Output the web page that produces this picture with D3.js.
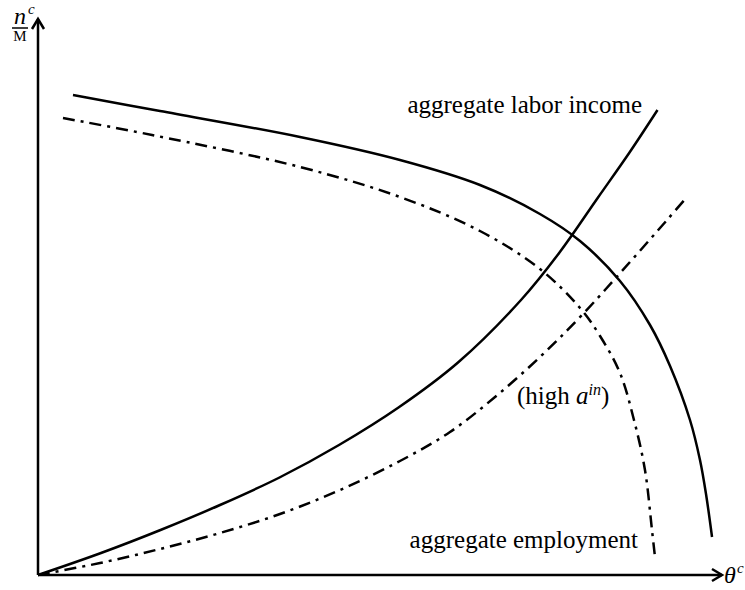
<!DOCTYPE html>
<html lang="en">
<head>
<meta charset="utf-8">
<script src="https://cdn.jsdelivr.net/npm/d3@7"></script>
<style>
  body { margin: 0; background: #fff; }
  text { font-family: "Liberation Serif", "Times New Roman", serif; fill: #000; }
</style>
</head>
<body>
<div id="chart"></div>
<script>
// aggregate labor income (solid, rising)
var incomeX = [0, 0.9, 1.75, 2.6, 3.45, 4.3, 5.15, 6.0, 6.9, 7.45, 8.0, 8.45, 8.85];
var incomeY = [0, 0.44, 0.9, 1.4, 1.95, 2.6, 3.35, 4.25, 5.5, 6.45, 7.55, 8.45, 9.3];

// aggregate employment (dash-dot, rising)
var employX = [0, 0.886, 1.743, 2.6, 3.457, 4.314, 5.171, 5.886, 6.529, 7.171, 7.771, 8.457, 8.986, 9.271];
var employY = [0, 0.24, 0.52, 0.84, 1.22, 1.7, 2.28, 2.86, 3.56, 4.36, 5.2, 6.26, 7.1, 7.56];

// falling curve (solid)
var fallX = [0.5, 1.743, 3.743, 5.171, 6.314, 7.171, 7.743, 8.314, 8.743, 9.029, 9.314, 9.457, 9.543, 9.629];
var fallY = [9.6, 9.28, 8.76, 8.3, 7.8, 7.22, 6.68, 5.88, 5.0, 4.18, 3.1, 2.3, 1.62, 0.76];

// falling curve, high a^in (dash-dot)
var fallHighX = [0.357, 1.629, 3.743, 5.171, 6.314, 7.171, 7.743, 8.029, 8.314, 8.514, 8.671, 8.771, 8.814];
var fallHighY = [9.14, 8.8, 8.16, 7.56, 6.88, 6.12, 5.34, 4.78, 4.04, 3.1, 2.1, 0.9, 0.36];

var w = 745, h = 590;

var svg = d3.select("#chart").append("svg")
  .attr("width", w)
  .attr("height", h);

var x = d3.scaleLinear().domain([0, 10]).range([38, 738]);
var y = d3.scaleLinear().domain([0, 10]).range([575, 75]);

var line = d3.line()
  .x(d => x(d[0]))
  .y(d => y(d[1]))
  .curve(d3.curveCatmullRom.alpha(0.5));

function pts(xs, ys) { return xs.map((v, i) => [v, ys[i]]); }

var dashDot = "12,6,3,6";

// axes with open arrow heads
var axes = svg.append("g")
  .attr("stroke", "#000")
  .attr("stroke-width", 2.5)
  .attr("fill", "none");
axes.append("line").attr("x1", x(0)).attr("y1", y(0)).attr("x2", x(0)).attr("y2", 19);
axes.append("path").attr("d", "M" + (x(0) - 6) + ",29L" + x(0) + ",19L" + (x(0) + 6) + ",29");
axes.append("line").attr("x1", x(0)).attr("y1", y(0)).attr("x2", 722).attr("y2", y(0));
axes.append("path").attr("d", "M712," + (y(0) - 6) + "L722," + y(0) + "L712," + (y(0) + 6));

// curves
svg.append("path")
  .datum(pts(fallX, fallY))
  .attr("d", line)
  .attr("fill", "none").attr("stroke", "#000").attr("stroke-width", 2.5);

svg.append("path")
  .datum(pts(fallHighX, fallHighY))
  .attr("d", line)
  .attr("fill", "none").attr("stroke", "#000").attr("stroke-width", 2.5)
  .attr("stroke-dasharray", dashDot);

svg.append("path")
  .datum(pts(incomeX, incomeY))
  .attr("d", line)
  .attr("fill", "none").attr("stroke", "#000").attr("stroke-width", 2.5);

svg.append("path")
  .datum(pts(employX, employY))
  .attr("d", line)
  .attr("fill", "none").attr("stroke", "#000").attr("stroke-width", 2.5)
  .attr("stroke-dasharray", dashDot);

// y axis label: n^c / M
var ylab = svg.append("g");
ylab.append("text").attr("x", 20).attr("y", 24).attr("text-anchor", "middle")
  .style("font-size", "24px").style("font-style", "italic").text("n");
ylab.append("text").attr("x", 28).attr("y", 14)
  .style("font-size", "15px").style("font-style", "italic").text("c");
ylab.append("line").attr("x1", 12).attr("x2", 28).attr("y1", 28).attr("y2", 28)
  .attr("stroke", "#000").attr("stroke-width", 1.5);
ylab.append("text").attr("x", 20).attr("y", 41).attr("text-anchor", "middle")
  .style("font-size", "15px").text("M");

// x axis label: theta^c
svg.append("text").attr("x", 724).attr("y", y(0) + 8)
  .style("font-size", "24px").style("font-style", "italic").text("θ");
svg.append("text").attr("x", 737).attr("y", y(0) - 2)
  .style("font-size", "15px").style("font-style", "italic").text("c");

// curve labels
svg.append("text").attr("x", 642).attr("y", 113).attr("text-anchor", "end")
  .style("font-size", "25px").text("aggregate labor income");

svg.append("text").attr("x", 638).attr("y", 548).attr("text-anchor", "end")
  .style("font-size", "25px").text("aggregate employment");

var high = svg.append("text").attr("x", 517).attr("y", 404).style("font-size", "25px");
high.append("tspan").text("(high ");
high.append("tspan").style("font-style", "italic").text("a");
high.append("tspan").style("font-style", "italic").style("font-size", "16px").attr("dy", -9).text("in");
high.append("tspan").attr("dy", 9).text(")");
</script>
</body>
</html>
